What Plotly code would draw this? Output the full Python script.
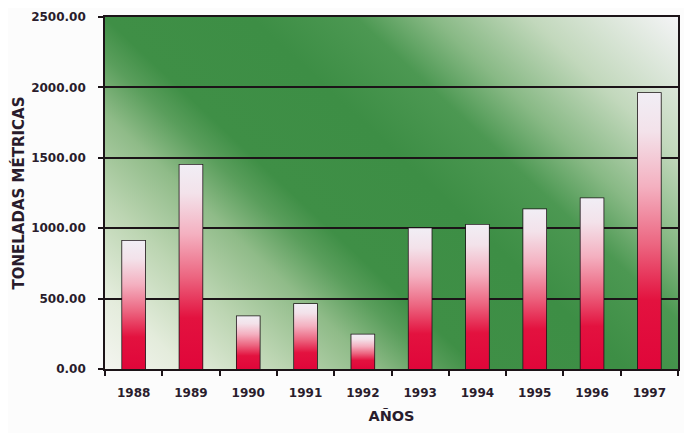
import base64
import plotly.graph_objects as go

# ---- data ----
years = ["1988", "1989", "1990", "1991", "1992", "1993", "1994", "1995", "1996", "1997"]
toneladas = [910, 1450, 375, 462, 245, 1000, 1025, 1135, 1212, 1960]
y_ticks = [0, 500, 1000, 1500, 2000, 2500]

# ---- styles ----
TXT = "#2a1c2c"
LINE = "#1c1418"
FONT = "DejaVu Sans"
BAR_SCALE = [[0.0, "#e0063a"], [0.25, "#e3123f"], [0.45, "#ec6580"],
             [0.66, "#f4b0c0"], [0.86, "#f3e2ea"], [1.0, "#f1eef5"]]

svg = """<svg xmlns='http://www.w3.org/2000/svg' width='572' height='352' viewBox='0 0 572 352' preserveAspectRatio='none'>
<defs><linearGradient id='g' gradientUnits='userSpaceOnUse' x1='0' y1='352' x2='444' y2='-120'>
<stop offset='0' stop-color='#f4f5f0'/>
<stop offset='0.086' stop-color='#e4ecdc'/>
<stop offset='0.19' stop-color='#bcd5b2'/>
<stop offset='0.287' stop-color='#8fbb88'/>
<stop offset='0.35' stop-color='#5a9e5c'/>
<stop offset='0.395' stop-color='#3f8f46'/>
<stop offset='0.55' stop-color='#3d8e45'/>
<stop offset='0.66' stop-color='#4c9852'/>
<stop offset='0.74' stop-color='#88b985'/>
<stop offset='0.843' stop-color='#c2d8bc'/>
<stop offset='1' stop-color='#f4f4f6'/>
</linearGradient></defs>
<rect x='0' y='0' width='572' height='352' fill='url(#g)'/>
</svg>"""
bg_src = "data:image/svg+xml;base64," + base64.b64encode(svg.encode()).decode()

fig = go.Figure()

half = 0.2
for i, v in enumerate(toneladas):
    fig.add_trace(go.Scatter(
        x=[i - half, i - half, i + half, i + half, i - half],
        y=[0, v, v, 0, 0],
        mode="lines", fill="toself",
        fillgradient=dict(type="vertical", colorscale=BAR_SCALE),
        line=dict(width=0), xaxis="x2", hoverinfo="skip", showlegend=False))

fig.add_trace(go.Bar(
    x=years, y=toneladas, width=0.4,
    marker=dict(color="rgba(0,0,0,0)", line=dict(color=LINE, width=1.6)),
    showlegend=False))

# page body has an 8px margin, so the figure is sized/offset to compensate
fig.update_layout(
    width=684, height=425, autosize=False,
    margin=dict(l=97, r=14, t=9, b=64),
    paper_bgcolor="#fcfcfc", plot_bgcolor="#44944c",
    images=[dict(source=bg_src, xref="paper", yref="paper", x=0, y=1,
                 sizex=1, sizey=1, sizing="stretch", xanchor="left",
                 yanchor="top", layer="below")],
    xaxis=dict(type="category", categoryorder="array", categoryarray=years,
               range=[-0.5, 9.5], tickson="boundaries", ticks="outside",
               ticklen=5, tickcolor=LINE, tickwidth=1.5, automargin=False,
               ticklabelstandoff=12,
               showline=True, linecolor=LINE, linewidth=1.6, mirror=True,
               showgrid=False, zeroline=False,
               tickfont=dict(family=FONT, size=12, color=TXT, weight="bold"),
               title=dict(text="AÑOS", standoff=12,
                          font=dict(family=FONT, size=14.5, color=TXT, weight="bold"))),
    xaxis2=dict(overlaying="x", range=[-0.5, 9.5], visible=False),
    yaxis=dict(range=[0, 2500], tickvals=y_ticks, tickformat=".2f",
               ticks="outside", ticklen=5, tickcolor=LINE, tickwidth=1.5,
               automargin=False, ticklabelstandoff=10,
               showline=True, linecolor=LINE, linewidth=1.6, mirror=True,
               showgrid=True, gridcolor=LINE, gridwidth=1.6, zeroline=False,
               tickfont=dict(family=FONT, size=12, color=TXT, weight="bold"),
               title=dict(text="TONELADAS MÉTRICAS", standoff=3,
                          font=dict(family=FONT, size=15, color=TXT, weight="bold"))),
)

fig.write_html("out.html")
